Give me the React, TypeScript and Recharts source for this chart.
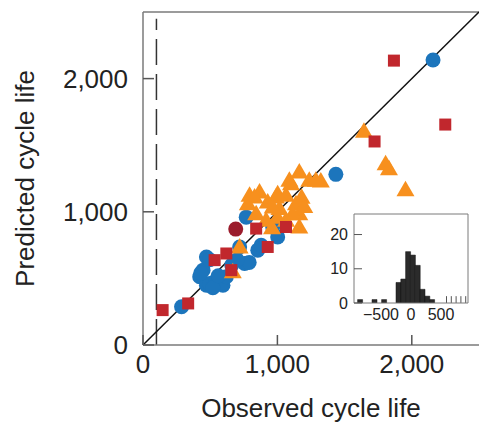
import React from 'react';
import { ScatterChart, Scatter, XAxis, YAxis, ReferenceLine, BarChart, Bar, CartesianGrid } from 'recharts';

const FONT = '"Liberation Sans", Arial, Helvetica, sans-serif';

// main plot axes
const axisMax = 2500;
const mainTicks = [0, 1000, 2000];
const cutoffCycle = 100;
const cutoffTop = 2450;

// training cells (blue circles)
const trainObserved = [287, 422, 447, 472, 472, 496, 496, 546, 595, 620, 660, 719, 756, 790, 768, 854, 879, 965, 1002, 1435, 2158, 430, 520, 560, 700];
const trainPredicted = [287, 512, 562, 449, 661, 462, 640, 487, 449, 512, 600, 736, 612, 620, 960, 712, 749, 886, 811, 1281, 2140, 540, 430, 520, 640];

// primary test cells (red squares)
const primaryObserved = [146, 336, 533, 620, 657, 842, 928, 1064, 1723, 1867, 2249];
const primaryPredicted = [262, 312, 637, 687, 562, 874, 736, 886, 1528, 2135, 1655];

// overlapping cell (dark red circle)
const darkObserved = [690];
const darkPredicted = [870];

// secondary test cells (orange triangles)
const secondaryObserved = [1644, 1805, 1830, 1953, 1323, 1237, 1163, 1089, 793, 867, 928, 990, 1064, 780, 1138, 1180, 1015, 1163, 1114, 842, 916, 1064, 1163, 1000, 719, 668, 1200, 960, 830, 1101, 965, 1002, 1286];
const secondaryPredicted = [1605, 1361, 1323, 1166, 1231, 1236, 1298, 1236, 1124, 1148, 1073, 1111, 1124, 1061, 1061, 1110, 1024, 986, 986, 986, 936, 936, 886, 960, 736, 550, 1040, 880, 1111, 1211, 1036, 1136, 1236];

// inset histogram of residuals
const histBins = [-850, -770, -690, -610, -530, -450, -370, -290, -210, -130, -50, 30, 110, 190, 270, 350, 430, 510, 590, 670, 750, 830, 910];
const histCounts = [1, 0, 0, 1, 0, 1, 0, 0, 6, 7, 15, 14, 11, 4, 2, 1, 0, 0, 0, 0, 0, 0, 0];
const histTail = [0, 0, 0, 0, 0, 0, 0, 0, 0, 0, 0, 0, 0, 0, 0, 0, 0, 0, 2, 2, 2, 2, 2];
const insetXDomain = [-950, 950];
const insetXTicks = [-500, 0, 500];
const insetYMax = 26;
const insetYTicks = [0, 10, 20];

const toPoints = (xs: number[], ys: number[]) => xs.map((x, i) => ({ x, y: ys[i] }));

const trainData = toPoints(trainObserved, trainPredicted);
const primaryData = toPoints(primaryObserved, primaryPredicted);
const darkData = toPoints(darkObserved, darkPredicted);
const secondaryData = toPoints(secondaryObserved, secondaryPredicted);
const histData = histBins.map((bin, i) => ({ bin, count: histCounts[i], tail: histTail[i] }));

const BORDER = '#7a7a7a';
const TEXT = '#222';

const fmt = (v: number) => v.toLocaleString('en-US');

const MainYTick = (props: any) => {
  const { x, y, payload } = props;
  return (
    <g>
      <line x1={x} x2={x + 11} y1={y} y2={y} stroke="#555" strokeWidth={1.5} />
      <text x={x - 15} y={y} textAnchor="end" dominantBaseline="central" fontSize={26} fill={TEXT} fontFamily={FONT}>
        {fmt(payload.value)}
      </text>
    </g>
  );
};

const MainXTick = (props: any) => {
  const { x, y, payload } = props;
  return (
    <g>
      <line x1={x} x2={x} y1={y} y2={y - 10} stroke="#555" strokeWidth={1.5} />
      <text x={x} y={y + 19} textAnchor="middle" dominantBaseline="central" fontSize={26} fill={TEXT} fontFamily={FONT}>
        {fmt(payload.value)}
      </text>
    </g>
  );
};

const InsetYTick = (props: any) => {
  const { x, y, payload } = props;
  return (
    <g>
      <line x1={x} x2={x + 8} y1={y} y2={y} stroke="#555" strokeWidth={1} />
      <text x={x - 6} y={y} textAnchor="end" dominantBaseline="central" fontSize={16} fill={TEXT} fontFamily={FONT}>
        {payload.value}
      </text>
    </g>
  );
};

const InsetXTick = (props: any) => {
  const { x, y, payload } = props;
  return (
    <text x={x} y={y + 11} textAnchor="middle" dominantBaseline="central" fontSize={16} fill={TEXT} fontFamily={FONT}>
      {payload.value < 0 ? `\u2212${Math.abs(payload.value)}` : payload.value}
    </text>
  );
};

const YTitle = (props: any) => {
  const { x, y, height } = props.viewBox;
  const cx = x + 25;
  const cy = y + height / 2;
  return (
    <text x={cx} y={cy} transform={`rotate(-90 ${cx} ${cy})`} textAnchor="middle" dominantBaseline="central" fontSize={26} fill={TEXT} fontFamily={FONT}>
      Predicted cycle life
    </text>
  );
};

const XTitle = (props: any) => {
  const { x, y, width } = props.viewBox;
  return (
    <text x={x + width / 2} y={y + 72} textAnchor="middle" fontSize={26} fill={TEXT} fontFamily={FONT}>
      Observed cycle life
    </text>
  );
};

const Circle = (color: string) => (props: any) => <circle cx={props.cx} cy={props.cy} r={7.5} fill={color} />;
const Square = (color: string) => (props: any) => <rect x={props.cx - 6} y={props.cy - 6} width={12} height={12} fill={color} />;
const Triangle = (color: string) => (props: any) => {
  const { cx, cy } = props;
  return <polygon points={`${cx},${cy - 9} ${cx - 9},${cy + 6.5} ${cx + 9},${cy + 6.5}`} fill={color} />;
};

const ThinBar = (props: any) => {
  const { x, y, width, height } = props;
  if (!height) return null;
  return <rect x={x + width / 2 - 0.5} y={y} width={1} height={height} fill="#555" />;
};

export default function App() {
  return (
    <div style={{ position: 'absolute', left: 0, top: 0, width: 479, height: 430, background: '#fff' }}>
      <ScatterChart width={479} height={430} margin={{ top: 12, right: 0, bottom: 0, left: 0 }}>
        <XAxis
          type="number"
          dataKey="x"
          domain={[0, axisMax]}
          ticks={mainTicks}
          height={85}
          tickSize={0}
          tickMargin={0}
          tickLine={false}
          tick={<MainXTick />}
          axisLine={{ stroke: BORDER, strokeWidth: 1.5 }}
          allowDataOverflow
          label={<XTitle />}
        />
        <YAxis
          type="number"
          dataKey="y"
          domain={[0, axisMax]}
          ticks={mainTicks}
          width={143}
          tickSize={0}
          tickMargin={0}
          tickLine={false}
          tick={<MainYTick />}
          axisLine={{ stroke: BORDER, strokeWidth: 1.5 }}
          allowDataOverflow
          label={<YTitle />}
        />
        <ReferenceLine y={axisMax} stroke={BORDER} strokeWidth={1.5} />
        <ReferenceLine
          segment={[{ x: cutoffCycle, y: 0 }, { x: cutoffCycle, y: cutoffTop }]}
          stroke="#333"
          strokeWidth={1.5}
          strokeDasharray="26 9"
        />
        <Scatter data={trainData} fill="#1c75bc" shape={Circle('#1c75bc')} isAnimationActive={false} />
        <Scatter data={secondaryData} fill="#f7901e" shape={Triangle('#f7901e')} isAnimationActive={false} />
        <Scatter data={primaryData} fill="#c1272d" shape={Square('#c1272d')} isAnimationActive={false} />
        <Scatter data={darkData} fill="#9b1c2c" shape={Circle('#9b1c2c')} isAnimationActive={false} />
        <ReferenceLine segment={[{ x: 0, y: 0 }, { x: axisMax, y: axisMax }]} stroke="#111" strokeWidth={1.5} />
      </ScatterChart>

      <div style={{ position: 'absolute', left: 300, top: 205, width: 175, height: 130 }}>
        <BarChart
          width={175}
          height={130}
          data={histData}
          margin={{ top: 9, right: 7, bottom: 0, left: 0 }}
          barCategoryGap={0}
          barGap={0}
        >
          <CartesianGrid horizontal={false} vertical={false} fill="#fff" />
          <XAxis
            type="number"
            dataKey="bin"
            domain={insetXDomain}
            ticks={insetXTicks}
            height={32}
            tickSize={0}
            tickMargin={0}
            tickLine={false}
            tick={<InsetXTick />}
            axisLine={{ stroke: BORDER, strokeWidth: 1 }}
            allowDataOverflow
          />
          <YAxis
            type="number"
            domain={[0, insetYMax]}
            ticks={insetYTicks}
            width={54}
            tickSize={0}
            tickMargin={0}
            tickLine={false}
            tick={<InsetYTick />}
            axisLine={{ stroke: BORDER, strokeWidth: 1 }}
            allowDataOverflow
          />
          <ReferenceLine y={insetYMax} stroke={BORDER} strokeWidth={1} />
          <ReferenceLine x={insetXDomain[1]} stroke={BORDER} strokeWidth={1} />
          <Bar dataKey="count" stackId="h" fill="#2b2b2b" stroke="#111" strokeWidth={0.5} isAnimationActive={false} />
          <Bar dataKey="tail" stackId="h" shape={<ThinBar />} isAnimationActive={false} />
        </BarChart>
      </div>
    </div>
  );
}
